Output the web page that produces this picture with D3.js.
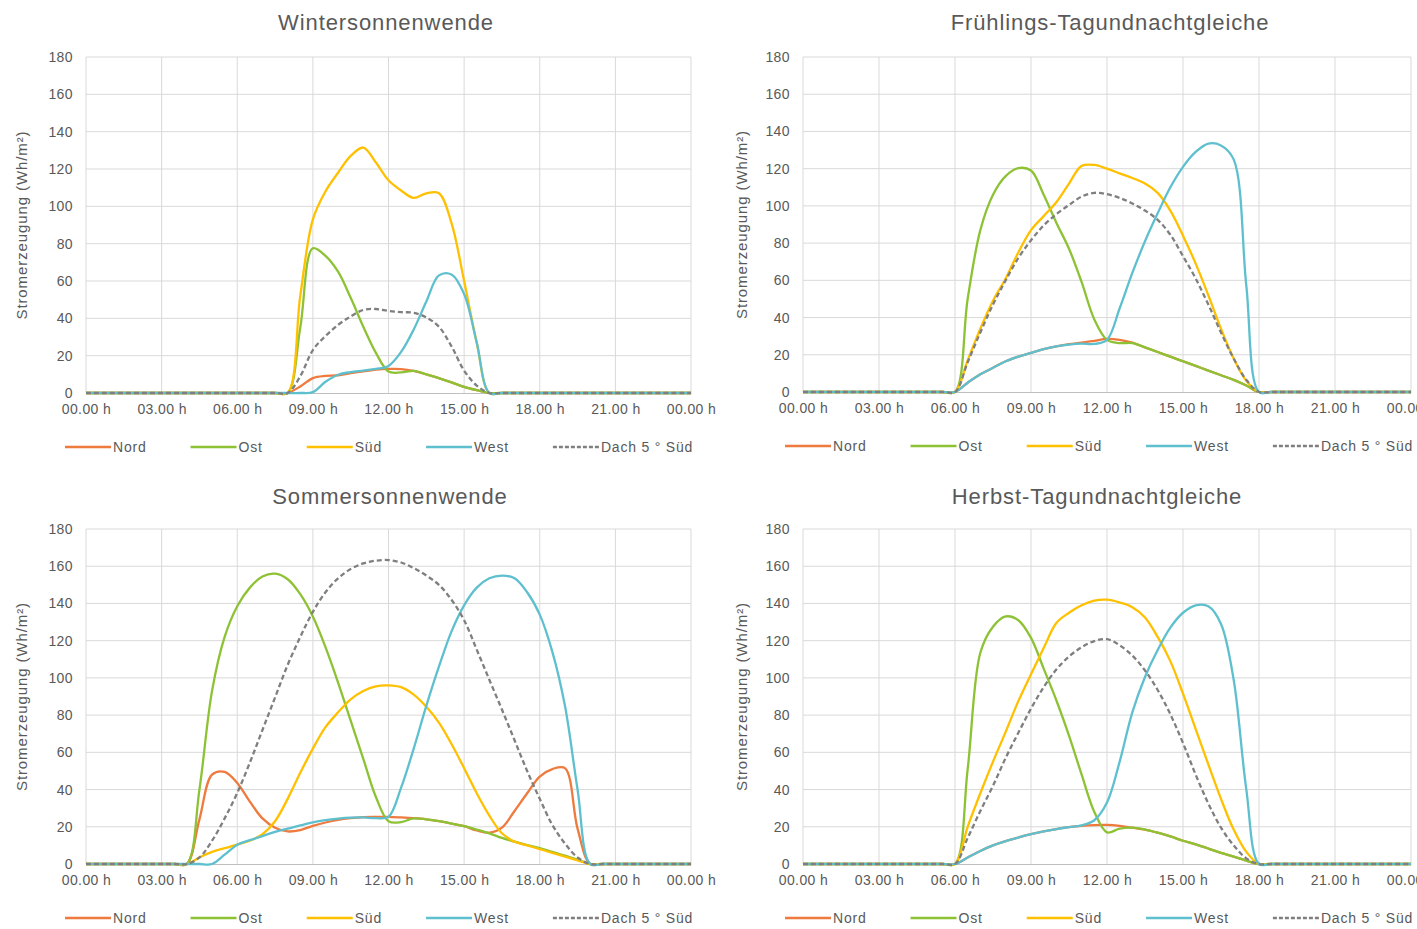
<!DOCTYPE html>
<html><head><meta charset="utf-8">
<script src="https://cdn.jsdelivr.net/npm/d3@7"></script>
<style>
body{margin:0;background:#fff}
svg text{font-family:"Liberation Sans",Arial,sans-serif;fill:#595959}
</style>
</head><body>
<svg id="chart" width="1417" height="929"></svg>
<script>
// ---------- data ----------
const seriesNames = ["Nord", "Ost", "Süd", "West", "Dach 5 ° Süd"];
const seriesColors = ["#EE7A3E", "#8DC235", "#FFC000", "#5EC0CE", "#7F7F7F"];
const xTickHours = [0, 3, 6, 9, 12, 15, 18, 21, 24];
const xTickLabels = ["00.00 h", "03.00 h", "06.00 h", "09.00 h", "12.00 h", "15.00 h", "18.00 h", "21.00 h", "00.00 h"];
const yTicks = [0, 20, 40, 60, 80, 100, 120, 140, 160, 180];
const yTitle = "Stromerzeugung (Wh/m²)";
const panelTitles = ["Wintersonnenwende", "Frühlings-Tagundnachtgleiche", "Sommersonnenwende", "Herbst-Tagundnachtgleiche"];

// Wintersonnenwende
const winterHours = [0, 7.5, 8, 8.5, 9, 9.5, 10, 10.5, 11, 11.5, 12, 12.5, 13, 13.5, 14, 14.5, 15, 15.5, 16, 16.5, 24];
const winterNord = [0, 0, 0, 3.5, 8, 9.2, 9.5, 10.7, 11.6, 12.5, 12.9, 12.8, 11.8, 10, 8, 5.7, 3.3, 1.5, 0, 0, 0];
const winterOst  = [0, 0, 0, 35, 77.5, 73.5, 65, 51, 35.5, 21.5, 11.5, 11, 11.8, 10, 8, 5.7, 3.3, 1.5, 0, 0, 0];
const winterSued = [0, 0, 0, 52, 93, 108, 118, 127, 131.5, 123.5, 114, 108.5, 104.5, 107, 107, 91, 60, 27, 0, 0, 0];
const winterWest = [0, 0, 0, 0, 0.5, 6, 9.8, 11.2, 12, 12.9, 14.5, 22, 34, 49, 63, 63.5, 53, 27, 0, 0, 0];
const winterDach = [0, 0, 0, 9, 23, 30.5, 36.5, 41, 44.5, 45, 44, 43.3, 43, 40.5, 35.5, 25, 12, 4, 0, 0, 0];

// Frühlings-Tagundnachtgleiche
const springHours = [0, 5.5, 6, 6.5, 7, 7.5, 8, 8.5, 9, 9.5, 10, 10.5, 11, 11.5, 12, 12.5, 13, 13.5, 14, 14.5, 15, 15.5, 16, 16.5, 17, 17.5, 18, 18.5, 24];
const springNord = [0, 0, 0, 5, 9.5, 13, 16.5, 19, 21, 23, 24.5, 25.7, 26.5, 27.5, 28.5, 28, 26.5, 24, 21.5, 19, 16.5, 14, 11.5, 9, 6.5, 3.5, 0, 0, 0];
const springOst  = [0, 0, 0, 50, 87, 106, 116, 120.3, 119, 106, 91, 77, 59, 39, 28, 26.3, 26.3, 24, 21.5, 19, 16.5, 14, 11.5, 9, 6.5, 3.5, 0, 0, 0];
const springSued = [0, 0, 0, 17, 34, 49, 61, 75, 87, 94.5, 102, 112, 121.5, 122, 120, 117.5, 115, 112, 107, 97.5, 84, 69, 52, 34, 18, 6, 0, 0, 0];
const springWest = [0, 0, 0, 5, 9.5, 13, 16.5, 19, 21, 23, 24.5, 25.5, 26, 25.8, 28, 45, 64, 81, 96, 110, 121, 129, 133.5, 132.5, 125, 57, 0, 0, 0];
const springDach = [0, 0, 0, 16, 32, 47, 60, 72, 81.5, 89.5, 95.5, 100.5, 105, 107, 106.3, 104.3, 101.3, 97.5, 92.5, 84.5, 73, 61, 47, 32, 18, 6.5, 0, 0, 0];

// Sommersonnenwende
const summerHours = [0, 3.5, 4, 4.5, 5, 5.5, 6, 6.5, 7, 7.5, 8, 8.5, 9, 9.5, 10, 10.5, 11, 11.5, 12, 12.5, 13, 13.5, 14, 14.5, 15, 15.5, 16, 16.5, 17, 17.5, 18, 18.5, 19, 19.5, 20, 20.5, 24];
const summerNord = [0, 0, 0, 24, 48, 49.5, 43.5, 33.5, 24.5, 19.5, 17.5, 18.2, 20.5, 22.3, 23.7, 24.6, 25.2, 25.3, 25.3, 25, 24.6, 24, 23, 21.7, 20.3, 18, 16.8, 19.5, 28.5, 38, 47, 51, 51.5, 19, 0, 0, 0];
const summerOst  = [0, 0, 0, 40, 93, 122, 138.5, 148.5, 154.5, 156, 153, 145, 133, 116.5, 97.5, 77, 56.5, 36, 23, 22.5, 24.5, 24, 23, 21.7, 20.3, 18.5, 16.5, 14, 12, 10.2, 8.6, 6.5, 4.5, 2.3, 0, 0, 0];
const summerSued = [0, 0, 0, 3.5, 6.5, 8.5, 10.4, 12.5, 16, 23, 35, 49, 62, 73.5, 81.5, 88.5, 93, 95.5, 96, 95, 91, 84.5, 76, 64.5, 51.5, 38, 26, 16.5, 12, 10, 8, 6, 4, 2, 0, 0, 0];
const summerWest = [0, 0, 0, 0, 0, 5, 10.4, 12.8, 15, 17.3, 19, 20.7, 22.4, 23.6, 24.4, 24.9, 25, 24.6, 25.3, 41, 62, 85, 106, 125, 139, 148.5, 153.5, 155, 153.5, 146, 134, 114, 85, 40, 0, 0, 0];
const summerDach = [0, 0, 0, 3.5, 12.5, 24.5, 38.2, 54.5, 72, 89.5, 107, 122, 135.5, 146, 153.5, 158.5, 161.5, 163, 163.3, 162, 159, 155, 150, 142, 131, 115.2, 99, 83, 66.5, 50, 35, 21, 11, 3.5, 0, 0, 0];

// Herbst-Tagundnachtgleiche
const autumnHours = [0, 5.5, 6, 6.5, 7, 7.5, 8, 8.5, 9, 9.5, 10, 10.5, 11, 11.5, 12, 12.5, 13, 13.5, 14, 14.5, 15, 15.5, 16, 16.5, 17, 17.5, 18, 18.5, 24];
const autumnNord = [0, 0, 0, 3.5, 7, 10, 12.3, 14.2, 16, 17.5, 18.8, 19.8, 20.5, 20.9, 21, 20.5, 19.5, 18.5, 16.8, 14.8, 12.5, 10.5, 8.3, 6, 4, 1.8, 0, 0, 0];
const autumnOst  = [0, 0, 0, 51, 113.5, 127.5, 133, 131, 121.5, 105, 88, 69, 48, 28, 17, 19, 19.5, 18.5, 16.8, 14.8, 12.5, 10.5, 8.3, 6, 4, 1.8, 0, 0, 0];
const autumnSued = [0, 0, 0, 20, 38, 55, 71, 87.5, 102, 116, 129.5, 135, 139, 141.5, 142, 140.5, 138, 132.5, 122, 109, 91.5, 72.5, 53.5, 35, 18.5, 6.5, 0, 0, 0];
const autumnWest = [0, 0, 0, 3.5, 7, 10, 12.3, 14.2, 16, 17.5, 18.8, 19.8, 20.8, 23.5, 33, 55, 81.5, 100.5, 115, 127, 135, 139, 138.5, 129, 99, 40, 0, 0, 0];
const autumnDach = [0, 0, 0, 14, 28.5, 42, 57, 70.5, 83.5, 95, 104.5, 111.5, 116.5, 119.8, 120.8, 117.5, 112, 104, 93.5, 80.5, 65, 48, 32.5, 19.5, 10, 3, 0, 0, 0];

// ---------- layout ----------
const panels = [
  {title: panelTitles[0], hours: winterHours, values: [winterNord, winterOst, winterSued, winterWest, winterDach],
   left: 86, right: 691, top: 57, bottom: 393, titleX: 386, titleY: 30, yTitleX: 27, legendX: 65, legendY: 447},
  {title: panelTitles[1], hours: springHours, values: [springNord, springOst, springSued, springWest, springDach],
   left: 803, right: 1411, top: 57, bottom: 392, titleX: 1110, titleY: 30, yTitleX: 747, legendX: 785, legendY: 446},
  {title: panelTitles[2], hours: summerHours, values: [summerNord, summerOst, summerSued, summerWest, summerDach],
   left: 86, right: 691, top: 529, bottom: 864, titleX: 390, titleY: 504, yTitleX: 27, legendX: 65, legendY: 918},
  {title: panelTitles[3], hours: autumnHours, values: [autumnNord, autumnOst, autumnSued, autumnWest, autumnDach],
   left: 803, right: 1411, top: 529, bottom: 864, titleX: 1097, titleY: 504, yTitleX: 747, legendX: 785, legendY: 918}
];

const svg = d3.select("#chart");

panels.forEach(p => {
  const g = svg.append("g");
  const x = d3.scaleLinear().domain([0, 24]).range([p.left, p.right]);
  const y = d3.scaleLinear().domain([0, 180]).range([p.bottom, p.top]);

  // title
  g.append("text").attr("x", p.titleX).attr("y", p.titleY)
    .attr("text-anchor", "middle").style("font-size", "22px").style("letter-spacing", "0.9px")
    .text(p.title);

  // gridlines
  g.append("g").selectAll("line").data(yTicks.filter(d => d > 0)).join("line")
    .attr("x1", p.left).attr("x2", p.right).attr("y1", d => y(d)).attr("y2", d => y(d))
    .attr("stroke", "#D9D9D9").attr("stroke-width", 1);
  g.append("g").selectAll("line").data(xTickHours).join("line")
    .attr("x1", d => x(d)).attr("x2", d => x(d)).attr("y1", p.top).attr("y2", p.bottom)
    .attr("stroke", "#D9D9D9").attr("stroke-width", 1);

  // y axis labels
  const yAxis = d3.axisLeft(y).tickValues(yTicks).tickSize(0).tickPadding(13);
  const ya = g.append("g").attr("transform", `translate(${p.left},0)`).call(yAxis);
  ya.select(".domain").remove();
  ya.selectAll("text").style("font-size", "14px").style("letter-spacing", "0.4px")
    .style("font-family", '"Liberation Sans",Arial,sans-serif').attr("fill", "#595959");

  // x axis
  const xAxis = d3.axisBottom(x).tickValues(xTickHours).tickSize(0).tickPadding(11)
    .tickFormat((d, i) => xTickLabels[i]);
  const xa = g.append("g").attr("transform", `translate(0,${p.bottom})`).call(xAxis);
  xa.select(".domain").attr("stroke", "#BFBFBF").attr("stroke-width", 1);
  xa.selectAll("text").style("font-size", "14px").style("letter-spacing", "0.4px")
    .style("font-family", '"Liberation Sans",Arial,sans-serif').attr("fill", "#595959");

  // y title
  g.append("text")
    .attr("transform", `translate(${p.yTitleX},${(p.top + p.bottom) / 2}) rotate(-90)`)
    .attr("text-anchor", "middle").style("font-size", "15px").style("letter-spacing", "0.9px")
    .text(yTitle);

  // series
  const line = d3.line()
    .x(d => x(d[0])).y(d => y(d[1]))
    .curve(d3.curveCatmullRom.alpha(0.5));
  p.values.forEach((vals, i) => {
    const pts = p.hours.map((h, k) => [h, vals[k]]);
    g.append("path").datum(pts)
      .attr("d", line)
      .attr("fill", "none")
      .attr("stroke", seriesColors[i])
      .attr("stroke-width", 2.3)
      .attr("stroke-linejoin", "round")
      .attr("stroke-dasharray", i === 4 ? "5,3" : null);
  });

  // legend
  let lx = p.legendX;
  seriesNames.forEach((name, i) => {
    g.append("line").attr("x1", lx).attr("x2", lx + 46)
      .attr("y1", p.legendY).attr("y2", p.legendY)
      .attr("stroke", seriesColors[i]).attr("stroke-width", 2.5)
      .attr("stroke-dasharray", i === 4 ? "4,2" : null);
    const t = g.append("text").attr("x", lx + 48).attr("y", p.legendY + 5)
      .style("font-size", "14px").style("letter-spacing", "0.8px").text(name);
    lx += 48 + t.node().getComputedTextLength() + 44;
  });
});
</script>
</body></html>
